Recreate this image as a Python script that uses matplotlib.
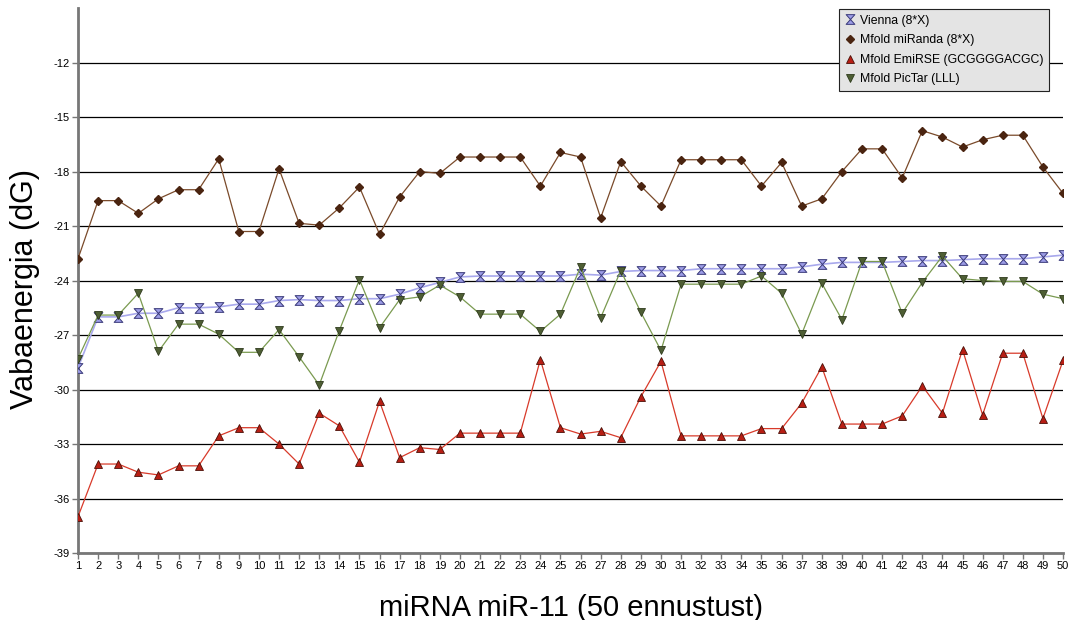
import matplotlib
matplotlib.use("Agg")
import matplotlib.pyplot as plt
from matplotlib.path import Path
import numpy as np

plt.rcParams["font.family"] = ["Liberation Sans", "DejaVu Sans"]
plt.rcParams["axes.unicode_minus"] = False

# data
x = np.arange(1, 51)

vienna = [-28.8, -26.0, -26.0, -25.8, -25.8, -25.5, -25.5, -25.45, -25.3, -25.3,
          -25.1, -25.05, -25.1, -25.1, -25.0, -25.0, -24.75, -24.4, -24.1, -23.8,
          -23.75, -23.75, -23.75, -23.75, -23.75, -23.65, -23.7, -23.5, -23.45, -23.45,
          -23.45, -23.35, -23.35, -23.35, -23.35, -23.35, -23.25, -23.1, -23.0, -23.0,
          -23.0, -22.95, -22.9, -22.9, -22.85, -22.8, -22.8, -22.8, -22.7, -22.6]

miranda = [-22.8, -19.6, -19.6, -20.3, -19.5, -19.0, -19.0, -17.3, -21.3, -21.3,
           -17.85, -20.85, -20.95, -20.0, -18.85, -21.45, -19.4, -18.0, -18.1, -17.2,
           -17.2, -17.2, -17.2, -18.8, -16.95, -17.2, -20.55, -17.45, -18.8, -19.9,
           -17.35, -17.35, -17.35, -17.35, -18.8, -17.5, -19.9, -19.5, -18.0, -16.75,
           -16.75, -18.35, -15.75, -16.1, -16.65, -16.25, -16.0, -16.0, -17.75, -19.2]

emirse = [-37.0, -34.1, -34.1, -34.55, -34.7, -34.2, -34.2, -32.55, -32.1, -32.1,
          -33.0, -34.1, -31.3, -32.0, -34.0, -30.65, -33.75, -33.2, -33.3, -32.4,
          -32.4, -32.4, -32.4, -28.35, -32.1, -32.45, -32.3, -32.65, -30.4, -28.45,
          -32.55, -32.55, -32.55, -32.55, -32.15, -32.15, -30.75, -28.75, -31.9, -31.9,
          -31.9, -31.45, -29.8, -31.3, -27.8, -31.4, -28.0, -28.0, -31.6, -28.4]

pictar = [-28.3, -25.9, -25.9, -24.7, -27.9, -26.4, -26.4, -26.95, -27.95, -27.95,
          -26.7, -28.2, -29.75, -26.75, -23.95, -26.6, -25.05, -24.9, -24.25, -24.9,
          -25.85, -25.85, -25.85, -26.8, -25.85, -23.25, -26.05, -23.45, -25.75, -27.85,
          -24.2, -24.2, -24.2, -24.2, -23.75, -24.7, -26.95, -24.15, -26.15, -22.95,
          -22.95, -25.8, -24.1, -22.65, -23.9, -24.0, -24.05, -24.05, -24.75, -25.0]

labels = ["Vienna (8*X)", "Mfold miRanda (8*X)", "Mfold EmiRSE (GCGGGGACGC)", "Mfold PicTar (LLL)"]

# hourglass marker for Vienna
hourglass = Path([(-0.9, 1), (0.9, 1), (-0.9, -1), (0.9, -1), (-0.9, 1)],
                 [Path.MOVETO, Path.LINETO, Path.LINETO, Path.LINETO, Path.CLOSEPOLY])

fig = plt.figure(figsize=(10.73, 6.2), dpi=100)
ax = fig.add_axes([0.0727, 0.108, 0.918, 0.879])

ax.plot(x, vienna, color="#a8a8ec", lw=1.2, marker=hourglass, ms=7,
        mfc="#9c9ce6", mec="#3a3a7a", mew=0.7, label=labels[0], zorder=3)
ax.plot(x, miranda, color="#7a4a2a", lw=0.9, marker="D", ms=4,
        mfc="#4a2410", mec="#4a2410", label=labels[1], zorder=3)
ax.plot(x, emirse, color="#d83a2a", lw=0.9, marker="^", ms=5.5,
        mfc="#b81e14", mec="#4a1008", mew=0.6, label=labels[2], zorder=3)
ax.plot(x, pictar, color="#7a9a50", lw=0.9, marker="v", ms=5.5,
        mfc="#4e5e34", mec="#2e3a1c", mew=0.6, label=labels[3], zorder=3)

ax.set_xlim(1, 50)
ax.set_ylim(-39, -9)
ax.set_xticks(x)
ax.set_yticks(np.arange(-39, -11, 3))
ax.tick_params(axis="both", labelsize=8, length=4, width=1, color="#777777", pad=2)
ax.yaxis.grid(True, color="black", lw=0.9)
ax.set_axisbelow(True)

for s in ["top", "right"]:
    ax.spines[s].set_visible(False)
for s in ["left", "bottom"]:
    ax.spines[s].set_color("#777777")
    ax.spines[s].set_linewidth(2)

ax.set_ylabel("Vabaenergia (dG)", fontsize=22)
ax.yaxis.set_label_coords(-0.039, 0.484)
ax.set_xlabel("miRNA miR-11 (50 ennustust)", fontsize=21, labelpad=16)

leg = ax.legend(loc="upper left", bbox_to_anchor=(0.773, 0.998), borderaxespad=0,
                fontsize=8.8, frameon=True, fancybox=False, framealpha=1, borderpad=0.45,
                handlelength=0.8, handletextpad=0.4, labelspacing=0.62)
leg.get_frame().set_facecolor("#e4e4e4")
leg.get_frame().set_edgecolor("#222222")
leg.get_frame().set_linewidth(0.8)
for h in leg.get_lines():
    h.set_linestyle("none")

fig.savefig("out.png", dpi=100)
